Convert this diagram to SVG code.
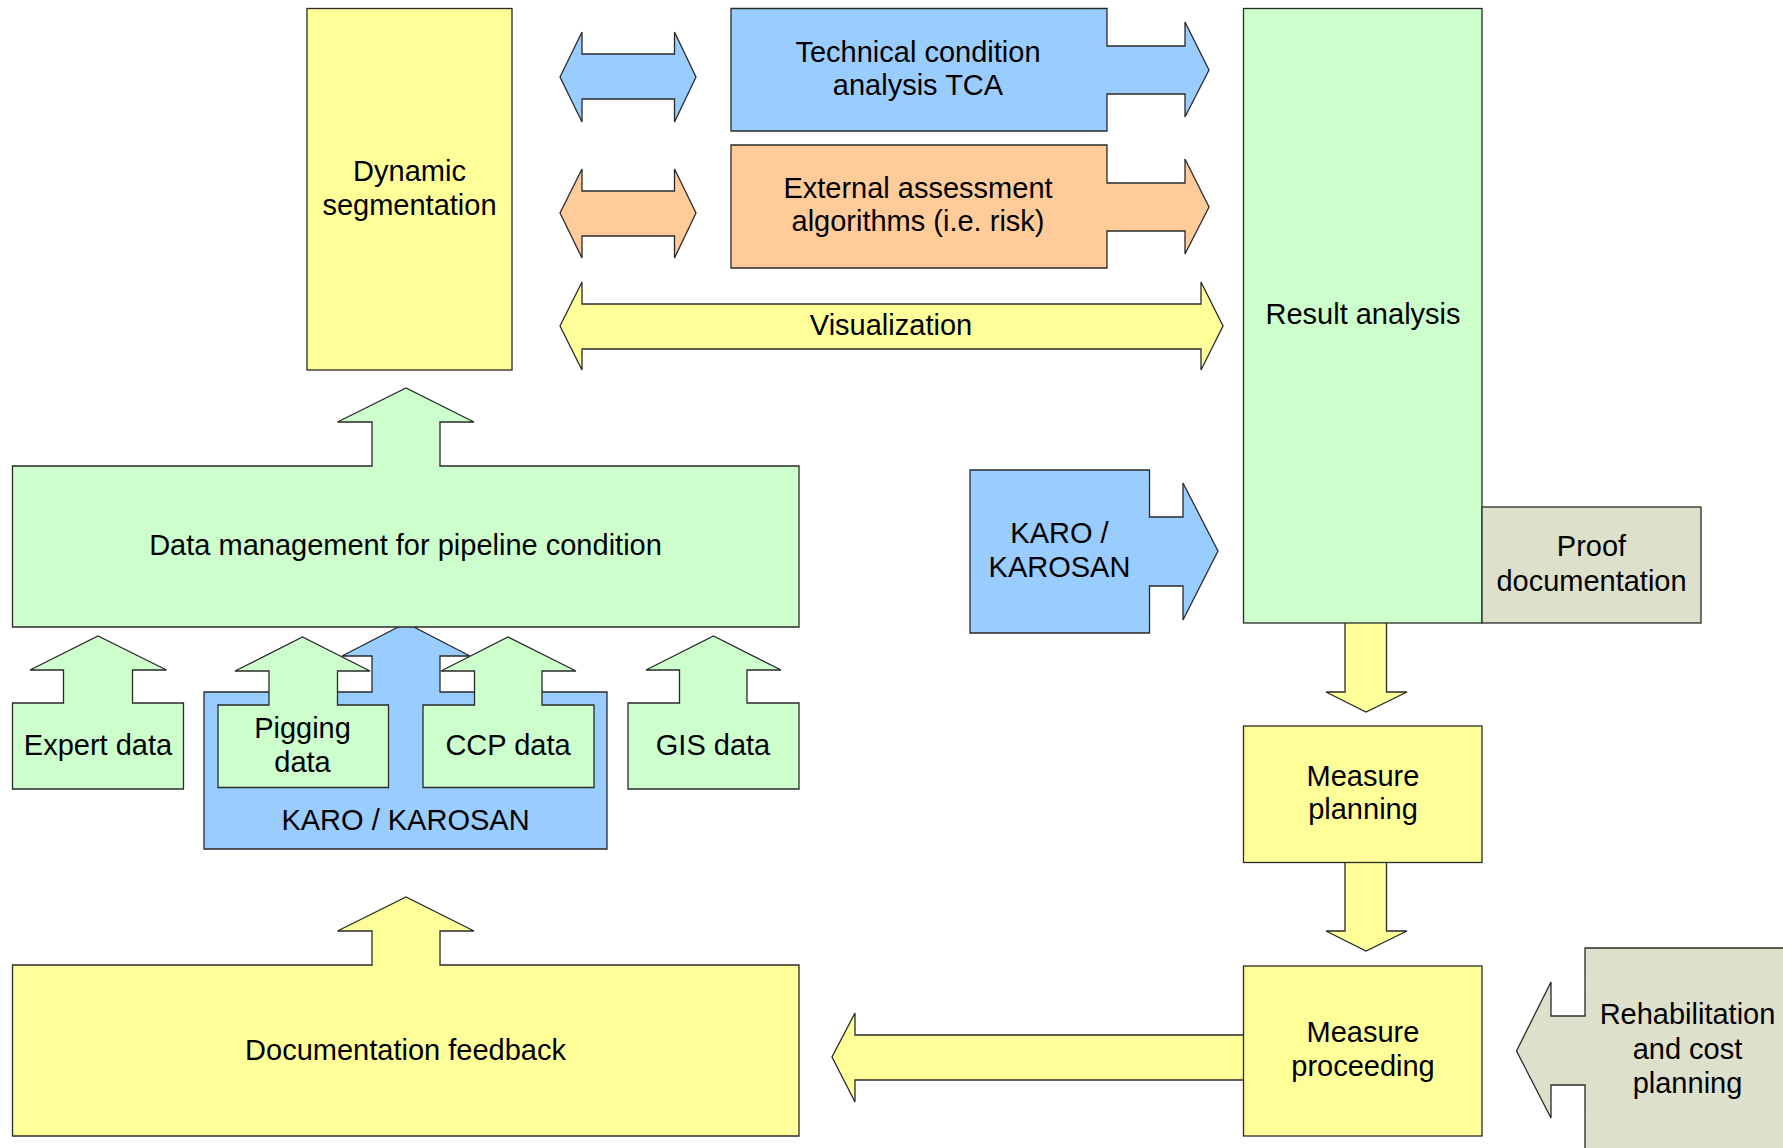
<svg xmlns="http://www.w3.org/2000/svg" width="1783" height="1148" viewBox="0 0 1783 1148">
<style>
.s{stroke:#2a2a2a;stroke-width:1.3;stroke-linejoin:miter}
.y{fill:#FFFF99}.g{fill:#CCFFCC}.b{fill:#99CCFF}.o{fill:#FFCC99}.k{fill:#DDE0CA}
text{font-family:"Liberation Sans",Arial,sans-serif;font-size:29px;fill:#000;text-anchor:middle}
</style>
<rect width="1783" height="1148" fill="#fff"/>
<g id="connectors">
<path id="arr-tca" class="s b" d="M560,77 L582,32 L582,54 L674.5,54 L674.5,32 L696,77 L674.5,122 L674.5,99 L582,99 L582,122 Z"/>
<path id="arr-ext" class="s o" d="M560,213 L582,169 L582,191 L674.5,191 L674.5,169 L696,213 L674.5,258 L674.5,236 L582,236 L582,258 Z"/>
<path id="arr-vis" class="s y" d="M560,326 L582,282 L582,304 L1201,304 L1201,282 L1223,326 L1201,370 L1201,349 L582,349 L582,370 Z"/>
<path id="arr-res-plan" class="s y" d="M1345,623 L1345,692 L1326,692 L1366,712 L1407,692 L1386.5,692 L1386.5,623"/>
<path id="arr-plan-proc" class="s y" d="M1345,863 L1345,931 L1326,931 L1366,951 L1407,931 L1386.5,931 L1386.5,863"/>
<path id="arr-proc-doc" class="s y" d="M1243.5,1035 L855,1035 L855,1013 L832,1057 L855,1102 L855,1080 L1243.5,1080"/>
</g>
<g id="node-dynseg">
<rect class="s y" x="307" y="8.5" width="205" height="361.5"/>
<text x="409.5" y="180.5">Dynamic</text>
<text x="409.5" y="214.5">segmentation</text>
</g>
<g id="node-tca">
<path class="s b" d="M731,8.5 L1107,8.5 L1107,46 L1185,46 L1185,22 L1209,70 L1185,117 L1185,94 L1107,94 L1107,131 L731,131 Z"/>
<text x="918" y="62">Technical condition</text>
<text x="918" y="95">analysis TCA</text>
</g>
<g id="node-ext">
<path class="s o" d="M731,145 L1107,145 L1107,183 L1185,183 L1185,159 L1209,207 L1185,254 L1185,231 L1107,231 L1107,268 L731,268 Z"/>
<text x="918" y="197.5">External assessment</text>
<text x="918" y="230.5">algorithms (i.e. risk)</text>
</g>
<g id="label-vis">
<text x="891" y="334.5">Visualization</text>
</g>
<g id="node-result">
<rect class="s g" x="1243.5" y="8.5" width="238.5" height="614.5"/>
<text x="1363" y="323.5">Result analysis</text>
</g>
<g id="node-proof">
<rect class="s k" x="1482" y="507" width="219" height="116"/>
<text x="1591.5" y="555.5">Proof</text>
<text x="1591.5" y="591">documentation</text>
</g>
<g id="node-karo-right">
<path class="s b" d="M970,470 L1149.5,470 L1149.5,517 L1183,517 L1183,483 L1218,551 L1183,620 L1183,586 L1149.5,586 L1149.5,633 L970,633 Z"/>
<text x="1059.5" y="543">KARO /</text>
<text x="1059.5" y="576.5">KAROSAN</text>
</g>
<g id="node-karo-bottom">
<path class="s b" d="M204,692 L372,692 L372,656 L342,656 L406,623 L470,656 L440,656 L440,692 L607,692 L607,849 L204,849 Z"/>
<text x="405.5" y="829.5">KARO / KAROSAN</text>
</g>
<g id="node-datamgmt">
<path class="s g" d="M12.5,466 L372,466 L372,422 L337.5,422 L406,388 L474,422 L440,422 L440,466 L799,466 L799,627 L12.5,627 Z"/>
<text x="405.5" y="554.5">Data management for pipeline condition</text>
</g>
<g id="node-expert">
<path class="s g" d="M12.5,703 L63.5,703 L63.5,670 L30,670 L98,636 L166.5,670 L132.5,670 L132.5,703 L183.5,703 L183.5,789 L12.5,789 Z"/>
<text x="98" y="754.5">Expert data</text>
</g>
<g id="node-pigging">
<path class="s g" d="M218,705 L269,705 L269,671 L235,671 L302.5,637 L370,671 L337.5,671 L337.5,705 L388.5,705 L388.5,787.5 L218,787.5 Z"/>
<text x="302.5" y="737.5">Pigging</text>
<text x="302.5" y="771.5">data</text>
</g>
<g id="node-ccp">
<path class="s g" d="M423,705 L474.5,705 L474.5,671 L441,671 L508,637 L576,671 L542,671 L542,705 L594,705 L594,787.5 L423,787.5 Z"/>
<text x="508" y="754.5">CCP data</text>
</g>
<g id="node-gis">
<path class="s g" d="M628,703 L679.5,703 L679.5,670 L646,670 L713.5,636 L781,670 L747,670 L747,703 L799,703 L799,789 L628,789 Z"/>
<text x="713" y="754.5">GIS data</text>
</g>
<g id="node-plan">
<rect class="s y" x="1243.5" y="726" width="238.5" height="136.5"/>
<text x="1363" y="786">Measure</text>
<text x="1363" y="819">planning</text>
</g>
<g id="node-proc">
<rect class="s y" x="1243.5" y="966" width="238.5" height="170"/>
<text x="1363" y="1041.5">Measure</text>
<text x="1363" y="1075.5">proceeding</text>
</g>
<g id="node-docfb">
<path class="s y" d="M12.5,965 L372,965 L372,931 L337.5,931 L406,897 L474,931 L440,931 L440,965 L799,965 L799,1136 L12.5,1136 Z"/>
<text x="405.5" y="1059.5">Documentation feedback</text>
</g>
<g id="node-rehab">
<path class="s k" d="M1800,948 L1585,948 L1585,1016 L1551,1016 L1551,982 L1516.5,1051 L1551,1118 L1551,1085 L1585,1085 L1585,1160 L1800,1160 Z"/>
<text x="1687.5" y="1023.5">Rehabilitation</text>
<text x="1687.5" y="1058.5">and cost</text>
<text x="1687.5" y="1092.5">planning</text>
</g>
</svg>
